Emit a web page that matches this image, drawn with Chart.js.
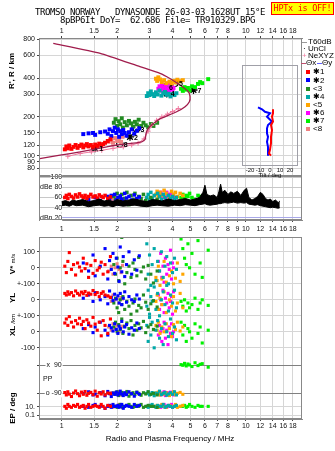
<!DOCTYPE html>
<html>
<head>
<meta charset="utf-8">
<title>Dynasonde ionogram</title>
<script src="https://cdn.jsdelivr.net/npm/chart.js@4.4.1/dist/chart.umd.min.js"></script>
<style>
  body { margin: 0; background: #fff; }
  #page { position: relative; width: 335px; height: 451px; overflow: hidden; font-family: "Liberation Sans", Arial, sans-serif; color: #000; }
  canvas { position: absolute; left: 0; top: 0; }
  .txt { position: absolute; white-space: pre; line-height: 1; }
  .mono { font-family: "DejaVu Sans Mono", monospace; font-size: 9px; letter-spacing: -0.42px; }
  .rot { position: absolute; white-space: nowrap; line-height: 1; font-size: 8px; font-weight: bold; transform: translate(-50%, -50%) rotate(-90deg); }
  .ctr { position: absolute; white-space: nowrap; line-height: 1; transform: translate(-50%, -50%); }
  #hptx { position: absolute; left: 271px; top: 2px; width: 61px; height: 11px; line-height: 11px; background: #ffff00; border: 1px solid #ff0000; color: #ff0000; text-align: center; font-family: "DejaVu Sans Mono", monospace; font-size: 8.5px; letter-spacing: -0.3px; }
  .leg { position: absolute; left: 308px; font-size: 8px; line-height: 1; white-space: pre; }
  .sw { position: absolute; width: 4px; height: 4px; }
  .ln { position: absolute; height: 1px; }
</style>
</head>
<body>
<div id="page">
  <canvas id="panelHeight" width="335" height="451"></canvas>
  <canvas id="panelAmp" width="335" height="451"></canvas>
  <canvas id="panelEcho" width="335" height="451"></canvas>
  <canvas id="panelTilt" width="335" height="451"></canvas>

  <div class="txt mono" style="left:35px; top:8.4px;">TROMSO NORWAY   DYNASONDE 26-03-03 1628UT 15°E</div>
  <div class="txt mono" style="left:60px; top:15.7px;">8pBP6It DoY=  62.686 File= TR910329.BPG</div>
  <div id="hptx">HPTx is OFF!</div>

  <div class="rot" style="left:12px; top:71px;">R', R / km</div>
  <div class="rot" style="left:13px; top:264px;">V* <span style="font-size:6px; font-weight:normal;">m/s</span></div>
  <div class="rot" style="left:13px; top:298px;">YL</div>
  <div class="rot" style="left:13px; top:325px;">XL <span style="font-size:6px; font-weight:normal;">/km</span></div>
  <div class="rot" style="left:13px; top:408px;">EP / deg</div>
  <div class="ctr" style="left:170px; top:438.7px; font-size:8px;">Radio and Plasma Frequency / MHz</div>

  <div id="legend"></div>
</div>

<script>
// Dynasonde ionogram: virtual height, amplitude, echo parameters and tilt

// ---- axis ticks ----
const F_MIN = 0.753;
const F_MAX = 20.2;
const freqTicks = [1, 1.5, 2, 3, 4, 5, 6, 7, 8, 9, 10, 12, 14, 16, 18];
const heightTicks = [80, 90, 100, 120, 150, 200, 300, 400, 600, 800];
const dbTicks = [20, 40, 60, 80, 100];
const tiltTicks = [-20, -10, 0, 10, 20];
const rowTicks = [10.45, 9.45, 8.45, 7.45, 6.45, 5.45, 4.45, 3.375, 1.6, 0.77, 0.25];
const rowLabels = ['100', '0', '+-100', '0', '+-100', '0', '-100', '', '', '10.', '0.1'];
const ppRows = [3.375, 2.5, 1.6];
const ppRowLabels = ['x  90', 'PP', 'o -90'];

// ---- model trace and NeXYZ profile (MHz, km) ----
const traceF = [0.76, 0.98, 1.26, 1.76, 1.99, 2.45, 2.72, 2.84, 2.87, 2.95, 3.15, 3.42, 3.79, 4.21, 4.68, 4.94, 4.98, 4.88, 4.39, 3.87, 3.42, 2.66, 1.62, 0.9];
const traceH = [95, 101, 107, 117, 121, 125, 128, 134, 148, 163, 178, 193, 205, 219, 240, 262, 287, 313, 353, 397, 435, 490, 622, 743];
const nexF = [1.08, 1.26, 1.45, 1.65, 1.9, 2.16, 2.4, 2.6, 2.8, 2.95, 3.08, 3.28, 3.5, 3.75, 4.0, 4.3];
const nexH = [99, 104, 107, 110, 114, 117, 121, 125, 135, 155, 172, 188, 200, 210, 220, 232];

// ---- echo groups: frequency, height, amplitude, V*, YL, XL, polarization, EP ----
const redF = [1.04, 1.06, 1.08, 1.10, 1.13, 1.16, 1.19, 1.22, 1.25, 1.28, 1.31, 1.34, 1.37, 1.40, 1.44, 1.48, 1.52, 1.56, 1.60, 1.64, 1.68, 1.72, 1.78, 1.84];
const redH = [112, 118, 114, 120, 113, 117, 121, 115, 119, 122, 116, 120, 123, 118, 121, 117, 122, 119, 124, 120, 123, 126, 130, 134];
const redDb = [60, 64, 58, 66, 62, 59, 65, 61, 67, 63, 60, 64, 58, 62, 66, 61, 63, 59, 65, 62, 60, 64, 58, 61];
const redVs = [10, -30, 40, 95, -10, 20, -45, 30, 5, -20, 60, -5, 25, -60, 15, -35, 45, -15, 0, 35, -40, 20, -25, 70];
const redYl = [40, 30, 50, 35, 45, 25, 55, 40, 30, 48, 38, 52, 28, 42, 35, 58, 33, 45, 20, 40, 50, 30, 25, 15];
const redXl = [55, 80, 40, 95, 60, 30, 70, 50, 85, 45, 65, 20, 75, 55, 35, 90, 48, 10, 60, -25, 70, 40, -10, 80];
const redPp = [-85, -100, -80, -95, -110, -88, -75, -92, -105, -82, -96, -78, -102, -90, -84, -98, -76, -108, -86, -94, -80, -100, -88, -92];
const redEp = [10, 8, 12, 10, 9, 11, 10, 12, 9, 10, 11, 8, 10, 12, 9, 10, 11, 10, 9, 12, 10, 8, 11, 10];

const blueF = [1.31, 1.40, 1.48, 1.52, 1.62, 1.72, 1.78, 1.82, 1.86, 1.90, 1.94, 1.98, 2.02, 2.05, 2.08, 2.12, 2.16, 2.20, 2.25, 2.32, 2.40, 2.48, 2.56, 2.64];
const blueH = [147, 149, 150, 145, 152, 154, 148, 160, 142, 155, 165, 150, 160, 140, 155, 147, 158, 150, 143, 152, 160, 148, 156, 163];
const blueDb = [52, 56, 50, 60, 54, 48, 62, 58, 64, 50, 66, 55, 60, 47, 63, 57, 52, 68, 59, 62, 55, 65, 58, 61];
const blueVs = [30, -20, 80, -50, 10, 120, -70, 45, -10, 90, -35, 60, 5, -85, 130, -25, 70, -55, 20, 100, -40, 50, -15, 75];
const blueYl = [10, 30, -10, 45, 0, 20, -25, 55, 15, -5, 35, 5, 25, -20, 40, -30, 10, 50, -15, 20, 0, -10, 30, 5];
const blueXl = [20, 45, -5, 30, 60, 10, -20, 40, 25, 5, 50, 15, -10, 35, 20, 65, 0, 30, 45, -15, 25, 10, 55, 20];
const bluePp = [-90, -80, -100, -95, -85, -105, -78, -92, -110, -88, -96, -82, -100, -90, -76, -94, -104, -86, -98, -80, -92, -108, -84, -96];
const blueEp = [10, 9, 11, 12, 10, 8, 10, 11, 9, 12, 10, 10, 11, 9, 10, 12, 8, 10, 11, 10, 9, 12, 10, 11];

const greenF = [1.92, 1.96, 2.00, 2.04, 2.08, 2.12, 2.15, 2.20, 2.26, 2.32, 2.38, 2.44, 2.50, 2.56, 2.62, 2.70, 2.78, 2.86, 2.95, 3.05, 3.15, 3.30];
const greenH = [180, 192, 170, 185, 175, 195, 165, 182, 172, 186, 178, 168, 183, 175, 190, 170, 180, 172, 166, 176, 170, 180];
const greenDb = [62, 55, 68, 48, 60, 66, 52, 58, 70, 46, 64, 56, 68, 50, 62, 58, 66, 54, 48, 60, 52, 56];
const greenVs = [20, -40, 60, -80, 0, 190, 40, -100, -30, 10, -60, 30, -10, -50, 65, -25, 5, -70, 15, -40, -95, -20];
const greenYl = [-20, 10, -50, -80, 0, -30, 20, -60, -10, -40, -90, -20, 5, -70, -35, -50, 30, -15, -60, -25, -5, -45];
const greenXl = [30, 60, 0, 45, 15, 80, -10, 35, 55, 20, 70, -20, 40, 10, 50, 25, 65, -5, 30, 45, 15, 35];
const greenPp = [-88, -96, -80, -104, -92, -84, -100, -90, -78, -108, -94, -86, -98, -82, -90, -102, -86, -94, -80, -96, -90, -100];
const greenEp = [10, 10, 9, 11, 12, 10, 9, 10, 11, 12, 10, 9, 10, 11, 10, 12, 9, 10, 11, 10, 10, 9];

const cyanF = [2.90, 2.95, 3.00, 3.05, 3.10, 3.18, 3.25, 3.32, 3.40, 3.48, 3.56, 3.64, 3.72, 3.80, 3.90, 4.00, 4.10, 4.20];
const cyanH = [290, 305, 295, 315, 300, 290, 310, 298, 320, 292, 305, 312, 296, 302, 288, 300, 295, 305];
const cyanDb = [60, 66, 55, 70, 58, 64, 52, 68, 62, 56, 66, 60, 54, 64, 58, 62, 56, 60];
const cyanVs = [150, -40, 80, -110, 20, 120, -80, 40, -20, 100, -60, 10, 70, -100, 30, -30, 60, -10];
const cyanYl = [-40, 60, -90, 20, -10, 80, -60, 40, -100, 0, 50, -30, 90, -70, 30, -20, 60, -50];
const cyanXl = [40, -60, 90, -20, 60, -100, 10, 70, -40, 20, -80, 50, 0, -30, 80, -10, 30, -50];
const cyanPp = [-90, -80, -100, -95, -85, -105, -88, -92, -76, -98, -90, -84, -102, -94, -86, -96, -80, -100];
const cyanEp = [10, 9, 11, 10, 12, 10, 9, 11, 10, 10, 12, 9, 10, 11, 10, 9, 10, 11];

const orangeF = [3.25, 3.30, 3.35, 3.42, 3.50, 3.60, 3.70, 3.85, 3.95, 4.05, 4.15, 4.25, 4.40, 4.55];
const orangeH = [395, 380, 405, 390, 372, 385, 365, 375, 362, 380, 370, 388, 378, 385];
const orangeDb = [66, 72, 62, 70, 64, 74, 68, 60, 72, 66, 70, 62, 68, 64];
const orangeVs = [-60, -80, 10, -110, -70, 40, -90, -50, -20, -100, -65, 30, -85, -40];
const orangeYl = [-10, 30, -60, 10, -30, 50, -80, 0, -40, 20, -70, -20, 40, -50];
const orangeXl = [40, 10, 60, -10, 30, 0, 50, 20, -30, 45, 15, 60, 5, 30];
const orangePp = [-88, -96, -82, -100, -90, -94, -86, -104, -92, -80, -98, -90, -84, -96];
const orangeEp = [10, 11, 9, 10, 12, 10, 9, 11, 10, 10, 12, 9, 10, 11];

const magentaF = [3.35, 3.40, 3.45, 3.50, 3.55, 3.60, 3.66, 3.72, 3.78, 3.84, 3.90, 3.95, 4.00, 4.05];
const magentaH = [330, 345, 320, 355, 335, 315, 345, 330, 360, 320, 340, 350, 325, 335];
const magentaDb = [68, 62, 70, 60, 66, 64, 58, 70, 62, 66, 60, 68, 64, 62];
const magentaVs = [40, -20, 90, -60, 10, -90, 60, -40, 20, -10, 110, -70, 30, 0];
const magentaYl = [30, -60, 0, -30, 60, -80, 10, -20, 40, -50, -10, 20, -90, 50];
const magentaXl = [-20, 40, 0, -60, 20, 60, -40, 10, -80, 30, -10, 50, -30, 0];
const magentaPp = [-92, -84, -100, -88, -96, -80, -104, -90, -86, -98, -82, -94, -90, -100];
const magentaEp = [10, 10, 9, 11, 10, 12, 10, 9, 11, 10, 10, 12, 9, 10];

const limeF = [4.45, 4.55, 4.65, 4.75, 4.85, 4.95, 5.10, 5.30, 5.50, 5.65, 5.80, 6.25];
const limeH = [330, 318, 340, 325, 335, 320, 345, 340, 360, 372, 365, 392];
const limeDb = [60, 66, 58, 64, 62, 68, 60, 56, 64, 62, 58, 60];
const limeVs = [180, 120, 60, 20, 150, 0, 90, -40, 170, 30, -60, 110];
const limeYl = [-10, -40, 0, -70, -20, -50, -30, 10, -60, -20, 0, -35];
const limeXl = [60, -20, 40, -60, 20, 0, -40, 50, -10, 30, -70, 10];
const limePp = [92, 88, 100, 84, 96, 90, 80, 104, 86, 94, 98, 76];
const limeEp = [10, 10, 11, 9, 10, 12, 10, 9, 11, 10, 10, 10];

const salmonF = [1.80, 1.86, 1.90, 1.95, 2.00, 2.05, 2.10, 2.14];
const salmonH = [128, 133, 126, 137, 130, 135, 128, 140];
const salmonDb = [56, 59, 54, 60, 57, 55, 58, 53];
const salmonVs = [-20, 10, -40, 0, 25, -10, -30, 15];
const salmonYl = [20, -10, 30, 0, 10, -20, 15, 5];
const salmonXl = [30, 10, 50, 20, 40, 0, 25, 35];
const salmonPp = [-90, -85, -95, -88, -92, -80, -100, -90];
const salmonEp = [10, 11, 9, 10, 10, 12, 10, 9];

// ---- group centre markers ----
const markF = [1.52, 2.07, 2.35, 2.55, 3.72, 3.64, 4.12, 5.2];
const markH = [114, 123, 140, 162, 304, 340, 364, 323];
const markId = ['1', '8', '2', '3', '4', '6', '5', '7'];
const markKind = ['*', '<', '*', '<', '*', '*', '<', '*'];

// ---- amplitude trace (upper / lower edge, dB) ----
const noiseF = [1.00, 1.05, 1.10, 1.15, 1.20, 1.30, 1.40, 1.50, 1.60, 1.70, 1.80, 1.90, 2.00, 2.15, 2.30, 2.50, 2.70, 2.90, 3.10, 3.30, 3.50, 3.80, 4.10, 4.40, 4.70, 5.00, 5.30, 5.60, 5.85, 6.00, 6.15, 6.40, 6.70, 7.00, 7.15, 7.30, 7.45, 7.70, 8.00, 8.30, 8.60, 9.00, 9.40, 9.80, 10.1, 10.4, 10.8, 11.2, 11.6, 12.0, 12.4, 12.8, 13.2, 13.6, 14.0, 14.5, 15.0, 15.3];
const noiseHi = [52, 54, 51, 55, 53, 56, 52, 54, 57, 53, 55, 52, 56, 53, 55, 57, 54, 52, 56, 55, 53, 57, 54, 56, 58, 55, 57, 60, 70, 84, 66, 63, 65, 60, 72, 86, 70, 74, 66, 71, 68, 72, 64, 74, 78, 60, 55, 58, 62, 70, 66, 58, 55, 57, 52, 55, 50, 53];
const noiseLo = [44, 45, 43, 46, 44, 45, 42, 44, 45, 43, 44, 42, 45, 43, 44, 45, 43, 42, 44, 45, 44, 43, 45, 44, 46, 45, 44, 46, 47, 48, 46, 45, 46, 47, 48, 48, 49, 50, 49, 50, 51, 49, 50, 49, 50, 47, 46, 45, 46, 44, 43, 42, 41, 40, 41, 40, 39, 40];

// ---- tilt inset (km, deg) ----
const thetaXH = [229, 213, 201, 184, 173, 158, 140, 125, 111, 104, 100];
const thetaXT = [3, 3, 2, 3, 1, 2, 1, 1, 0, -1, 1];
const thetaYH = [237, 229, 219, 213, 201, 184, 173, 163, 149, 140, 128, 117, 107, 100];
const thetaYT = [-12, -8, -5, 0, -3, 2, -2, -3, -3, -2, -3, -2, -2, -2];

const groups = [
  { name: '✱1', color: '#ff0000', f: redF, h: redH, db: redDb, vs: redVs, yl: redYl, xl: redXl, pp: redPp, ep: redEp },
  { name: '✱2', color: '#0000ff', f: blueF, h: blueH, db: blueDb, vs: blueVs, yl: blueYl, xl: blueXl, pp: bluePp, ep: blueEp },
  { name: '<3', color: '#228b22', f: greenF, h: greenH, db: greenDb, vs: greenVs, yl: greenYl, xl: greenXl, pp: greenPp, ep: greenEp },
  { name: '✱4', color: '#00a8a8', f: cyanF, h: cyanH, db: cyanDb, vs: cyanVs, yl: cyanYl, xl: cyanXl, pp: cyanPp, ep: cyanEp },
  { name: '<5', color: '#ffa500', f: orangeF, h: orangeH, db: orangeDb, vs: orangeVs, yl: orangeYl, xl: orangeXl, pp: orangePp, ep: orangeEp },
  { name: '✱6', color: '#ff00ff', f: magentaF, h: magentaH, db: magentaDb, vs: magentaVs, yl: magentaYl, xl: magentaXl, pp: magentaPp, ep: magentaEp },
  { name: '✱7', color: '#00f000', f: limeF, h: limeH, db: limeDb, vs: limeVs, yl: limeYl, xl: limeXl, pp: limePp, ep: limeEp },
  { name: '<8', color: '#f08080', f: salmonF, h: salmonH, db: salmonDb, vs: salmonVs, yl: salmonYl, xl: salmonXl, pp: salmonPp, ep: salmonEp }
];

// strip rows of the lower panel (one unit = 100 m/s or 100 km)
const vsRow = v => 9.45 + v / 100;
const ylRow = v => 7.45 + v / 100;
const xlRow = v => 5.45 + v / 100;
const ppRow = p => 2.49 + p * 1.775 / 180;
const epRow = e => 0.79 + (e - 10) * 0.06;

const pts = (xs, ys, fn) => xs.map((x, i) => ({ x, y: fn ? fn(ys[i]) : ys[i] }));

const tickFont = { family: '"Liberation Sans", Arial, sans-serif', size: 7 };
const gridColor = '#d6d6d6';

function freqAxis(position, height, values, hidden, pad) {
  return {
    type: 'logarithmic',
    position,
    min: F_MIN,
    max: F_MAX,
    bounds: 'data',
    afterBuildTicks: s => { s.ticks = values.map(v => ({ value: v })); },
    afterFit: s => { s.height = height; },
    ticks: {
      autoSkip: false, maxRotation: 0, padding: pad, font: tickFont, color: '#111',
      callback: v => hidden.includes(v) ? '' : String(v)
    },
    grid: { color: gridColor, tickColor: '#444', tickLength: 2 },
    border: { color: '#888' }
  };
}

const boxPlugin = {
  id: 'box',
  afterDraw(chart, args, opts) {
    const { ctx, chartArea: a } = chart;
    ctx.save();
    ctx.strokeStyle = opts.color || '#888';
    ctx.lineWidth = 1;
    ctx.strokeRect(Math.round(a.left) + 0.5, Math.round(a.top) + 0.5, Math.round(a.right - a.left) - 1, Math.round(a.bottom - a.top) - 1);
    ctx.restore();
  }
};

// digits next to the group markers
const markerDigits = {
  id: 'markerDigits',
  afterDatasetsDraw(chart) {
    const { ctx, scales: { x, y } } = chart;
    ctx.save();
    ctx.font = 'bold 7px "Liberation Sans", Arial, sans-serif';
    ctx.fillStyle = '#000';
    ctx.textBaseline = 'middle';
    markId.forEach((id, i) => {
      ctx.fillText(id, x.getPixelForValue(markF[i]) + 4, y.getPixelForValue(markH[i]) + 1);
    });
    ctx.restore();
  }
};

// polarization row labels drawn inside the plot
const ppLabelPlugin = {
  id: 'ppLabels',
  beforeDatasetsDraw(chart) {
    const { ctx, chartArea, scales: { x, y } } = chart;
    ctx.save();
    ctx.font = '7px "Liberation Sans", Arial, sans-serif';
    ctx.textBaseline = 'middle';
    ppRows.forEach((u, i) => {
      const text = ppRowLabels[i];
      const w = ctx.measureText(text).width;
      const py = y.getPixelForValue(u);
      const left = i === 1 ? chartArea.left + 4 : x.getPixelForValue(1) - w;
      ctx.fillStyle = '#fff';
      ctx.fillRect(left - 1, py - 4, w + 2, 8);
      ctx.fillStyle = '#111';
      ctx.fillText(text, left, py);
    });
    ctx.restore();
  }
};

const baseOptions = (padding, scales, plugins) => ({
  responsive: false,
  animation: false,
  events: [],
  layout: { padding },
  plugins: Object.assign({ legend: { display: false }, tooltip: { enabled: false } }, plugins),
  scales
});

// ---------- panel 1: virtual height ----------
const heightSets = [
  {
    type: 'line', data: pts(traceF, traceH), borderColor: '#a01c4c', borderWidth: 1.3,
    pointRadius: 0, fill: false, tension: 0.15
  },
  {
    type: 'line', data: pts(nexF, nexH), borderColor: '#f07aa0', borderWidth: 1,
    pointStyle: 'cross', pointRadius: 2.5, pointBorderColor: '#f07aa0', pointBorderWidth: 1, fill: false
  }
];
groups.forEach(g => heightSets.push({
  data: pts(g.f, g.h), pointStyle: 'rect', pointRadius: 2.8,
  backgroundColor: g.color, borderWidth: 0
}));
const starF = markF.filter((_, i) => markKind[i] === '*');
const starH = markH.filter((_, i) => markKind[i] === '*');
const ringF = markF.filter((_, i) => markKind[i] === '<');
const ringH = markH.filter((_, i) => markKind[i] === '<');
heightSets.push(
  { data: pts(starF, starH), pointStyle: 'star', pointRadius: 4, borderColor: '#000', borderWidth: 1.3, backgroundColor: '#000' },
  { data: pts(ringF, ringH), pointStyle: 'circle', pointRadius: 3.2, borderColor: '#000', borderWidth: 1.2, backgroundColor: 'rgba(255,255,255,0.6)' },
  { data: pts(ringF, ringH), pointStyle: 'crossRot', pointRadius: 3, borderColor: '#000', borderWidth: 1 }
);

new Chart(document.getElementById('panelHeight'), {
  type: 'scatter',
  data: { datasets: heightSets },
  options: baseOptions(
    { left: 0, right: 33, top: 26, bottom: 275 },
    {
      x: freqAxis('top', 12, freqTicks.filter(v => v !== 9), [], 1),
      y: {
        type: 'logarithmic', min: 69.6, max: 817, bounds: 'data',
        afterBuildTicks: s => { s.ticks = heightTicks.map(v => ({ value: v })); },
        afterFit: s => { s.width = 39; },
        ticks: { autoSkip: false, padding: 2, font: tickFont, color: '#111', callback: v => String(v) },
        grid: { color: gridColor, tickColor: '#444', tickLength: 2 },
        border: { color: '#888' }
      }
    },
    { box: { color: '#888' } }
  ),
  plugins: [boxPlugin, markerDigits]
});

// ---------- panel 2: amplitude ----------
const ampSets = [
  { type: 'line', data: pts(noiseF, noiseHi), borderColor: '#000', borderWidth: 1, pointRadius: 0, fill: false },
  { type: 'line', data: pts(noiseF, noiseLo), borderColor: '#000', borderWidth: 1, pointRadius: 0, fill: '-1', backgroundColor: '#000' }
];
groups.forEach(g => ampSets.push({
  data: pts(g.f, g.db), pointStyle: 'rect', pointRadius: 2.5,
  backgroundColor: g.color, borderWidth: 0
}));

new Chart(document.getElementById('panelAmp'), {
  type: 'scatter',
  data: { datasets: ampSets },
  options: baseOptions(
    { left: 0, right: 33, top: 176, bottom: 217 },
    {
      x: freqAxis('bottom', 14, freqTicks, [], 3),
      y: {
        type: 'linear', min: 16, max: 102, bounds: 'data',
        afterBuildTicks: s => { s.ticks = dbTicks.map(v => ({ value: v })); },
        afterFit: s => { s.width = 39; },
        ticks: {
          autoSkip: false, mirror: true, crossAlign: 'far', padding: 1, font: tickFont, color: '#111',
          showLabelBackdrop: true, backdropColor: '#fff', backdropPadding: 0,
          callback: v => v === 80 ? 'dBe 80' : v === 20 ? 'dBn 20' : String(v)
        },
        grid: { color: c => (c.tick && c.tick.value === 20) ? '#a8a8e8' : '#c8c8c8', drawTicks: false },
        border: { display: false }
      }
    },
    { box: { color: '#888' } }
  ),
  plugins: [boxPlugin]
});

// ---------- panel 3: echo parameters ----------
const echoSets = groups.map(g => ({
  data: [].concat(
    pts(g.f, g.vs, vsRow), pts(g.f, g.yl, ylRow), pts(g.f, g.xl, xlRow),
    pts(g.f, g.pp, ppRow), pts(g.f, g.ep, epRow)
  ),
  pointStyle: 'rect', pointRadius: 2.2, backgroundColor: g.color, borderWidth: 0
}));

new Chart(document.getElementById('panelEcho'), {
  type: 'scatter',
  data: { datasets: echoSets },
  options: baseOptions(
    { left: 0, right: 33, top: 237, bottom: 20 },
    {
      x: freqAxis('bottom', 12, freqTicks, [9], 1),
      y: {
        type: 'linear', min: 0, max: 11.375, bounds: 'data',
        afterBuildTicks: s => { s.ticks = rowTicks.map(v => ({ value: v })); },
        afterFit: s => { s.width = 39; },
        ticks: {
          autoSkip: false, padding: 2, font: tickFont, color: '#111',
          callback: v => rowLabels[rowTicks.indexOf(v)]
        },
        grid: {
          color: c => (c.tick && (c.tick.value === 3.375 || c.tick.value === 1.6)) ? '#808080' : gridColor,
          tickColor: '#444', tickLength: 2
        },
        border: { color: '#888' }
      }
    },
    { box: { color: '#888' } }
  ),
  plugins: [boxPlugin, ppLabelPlugin]
});

// ---------- inset: tilt ----------
new Chart(document.getElementById('panelTilt'), {
  type: 'line',
  data: {
    datasets: [
      { data: pts(thetaXT, thetaXH), borderColor: '#ff0000', borderWidth: 2, pointRadius: 0, fill: false },
      { data: pts(thetaYT, thetaYH), borderColor: '#0000ff', borderWidth: 2, pointRadius: 0, fill: false }
    ]
  },
  options: baseOptions(
    { left: 242, right: 37, top: 65, bottom: 272 },
    {
      x: {
        type: 'linear', min: -28, max: 28, bounds: 'data',
        afterBuildTicks: s => { s.ticks = tiltTicks.map(v => ({ value: v })); },
        afterFit: s => { s.height = 13; },
        ticks: { autoSkip: false, maxRotation: 0, padding: 1, font: { family: tickFont.family, size: 6 }, color: '#111' },
        title: { display: true, text: 'Tilt / deg', font: { family: tickFont.family, size: 6 }, padding: 0, color: '#111' },
        grid: { display: false, drawTicks: false },
        border: { display: false }
      },
      y: { type: 'logarithmic', min: 83.2, max: 505, display: false }
    },
    { box: { color: '#a0a0a8' } }
  ),
  plugins: [boxPlugin]
});

// ---------- legend ----------
const legend = document.getElementById('legend');
function addText(text, top, color) {
  const d = document.createElement('div');
  d.className = 'leg';
  d.style.top = top + 'px';
  if (color) d.style.color = color;
  d.textContent = text;
  legend.appendChild(d);
  return d;
}
function addLine(left, top, width, color) {
  const d = document.createElement('div');
  d.className = 'ln';
  Object.assign(d.style, { left: left + 'px', top: top + 'px', width: width + 'px', background: color });
  legend.appendChild(d);
}
addLine(302, 42, 5, '#999');
addText('T60dB', 38.4);
addText('·', 45.1).style.left = '303px';
addText('UnCl', 45.1);
addText('+', 51.8, '#f07aa0').style.left = '302px';
addText('NeXYZ', 51.8);
addLine(301, 63, 5, '#c05070');
addText('Θx', 59.4).style.left = '306px';
addLine(317, 63, 5, '#6060ff');
addText('Θy', 59.4).style.left = '322px';
groups.forEach((g, i) => {
  const cy = 72.3 + i * 8.1;
  const sw = document.createElement('div');
  sw.className = 'sw';
  Object.assign(sw.style, { left: '306px', top: (cy - 2) + 'px', background: g.color });
  legend.appendChild(sw);
  addText(g.name, cy - 3.9).style.left = '313px';
});
</script>
</body>
</html>
